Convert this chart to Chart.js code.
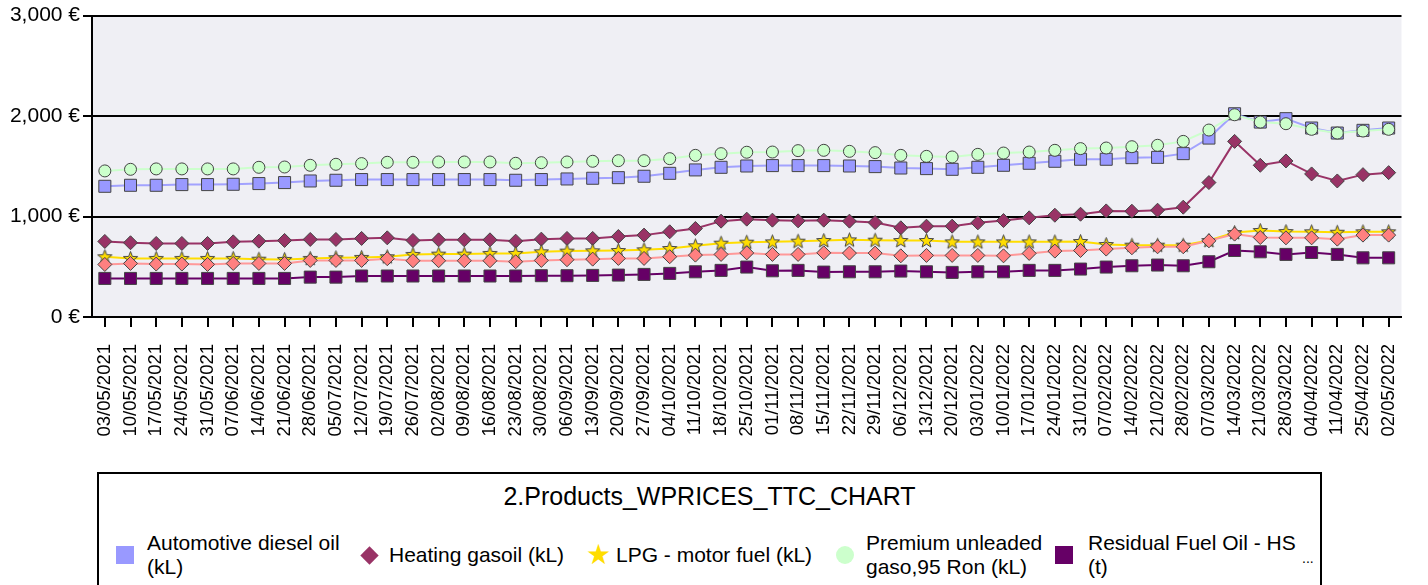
<!DOCTYPE html>
<html>
<head>
<meta charset="utf-8">
<script src="https://cdn.jsdelivr.net/npm/chart.js@4.4.1/dist/chart.umd.min.js"></script>
<style>
  body { margin: 0; background: #fff; font-family: "Liberation Sans", Arial, sans-serif; }
  #wrap { position: relative; width: 1428px; height: 585px; overflow: hidden; }
  #chart { position: absolute; left: 0; top: 0; }
  #legendBox { position: absolute; left: 97px; top: 472px; width: 1225px; height: 140px; border: 2px solid #000; box-sizing: border-box; }
  .lg { position: absolute; font-size: 21px; line-height: 24px; color: #000; white-space: nowrap; }
  .mk { position: absolute; }
</style>
</head>
<body>
<div id="wrap">
  <canvas id="chart" width="1428" height="470"></canvas>
  <div id="legendBox"></div>
  <div class="lg" id="legendTitle" style="left:97px;width:1225px;top:484px;text-align:center;font-size:25px;">2.Products_WPRICES_TTC_CHART</div>
  <div id="legendItems"></div>
  <div class="lg" style="left:1302px;top:546px;font-size:14px;">...</div>
</div>
<script>
// weekly dates
var dates = ["03/05/2021","10/05/2021","17/05/2021","24/05/2021","31/05/2021","07/06/2021","14/06/2021","21/06/2021","28/06/2021",
  "05/07/2021","12/07/2021","19/07/2021","26/07/2021","02/08/2021","09/08/2021","16/08/2021","23/08/2021","30/08/2021",
  "06/09/2021","13/09/2021","20/09/2021","27/09/2021","04/10/2021","11/10/2021","18/10/2021","25/10/2021",
  "01/11/2021","08/11/2021","15/11/2021","22/11/2021","29/11/2021","06/12/2021","13/12/2021","20/12/2021",
  "03/01/2022","10/01/2022","17/01/2022","24/01/2022","31/01/2022","07/02/2022","14/02/2022","21/02/2022","28/02/2022",
  "07/03/2022","14/03/2022","21/03/2022","28/03/2022","04/04/2022","11/04/2022","25/04/2022","02/05/2022"];

var dieselOil = [1301,1311,1311,1318,1318,1321,1328,1338,1354,1361,1368,1368,1368,
  1368,1368,1368,1361,1368,1374,1381,1387,1401,1430,1464,1490,1503,
  1507,1507,1507,1503,1497,1483,1477,1470,1490,1510,1530,1550,1570,
  1570,1586,1589,1626,1781,2023,1940,1974,1881,1831,1858,1881];

var heatingGasoil = [752,739,732,732,732,748,755,762,772,772,782,788,762,
  768,768,768,755,775,782,782,801,815,848,881,954,974,
  964,957,964,954,940,888,904,904,937,960,987,1013,1023,
  1056,1053,1063,1093,1338,1748,1510,1553,1424,1354,1417,1437];

var lpgFuel = [600,583,583,583,583,583,576,573,583,590,593,600,623,
  626,626,633,633,649,656,659,662,669,682,709,735,745,
  748,755,762,768,765,762,762,748,748,748,748,748,752,
  722,715,715,715,762,841,861,851,848,844,848,848];

var premiumUnleaded = [1454,1470,1474,1474,1474,1474,1490,1493,1510,1520,1527,1540,1540,
  1543,1543,1543,1530,1536,1543,1550,1556,1556,1576,1609,1626,1640,
  1642,1656,1659,1649,1636,1609,1599,1593,1619,1632,1642,1659,1676,
  1682,1695,1709,1748,1861,2013,1940,1924,1868,1831,1851,1868];

var residualHS = [384,384,384,384,384,384,384,384,397,397,408,408,408,
  408,408,408,408,411,411,414,417,424,434,450,464,497,
  460,464,447,450,450,457,450,444,450,450,464,464,477,
  497,510,517,510,550,662,649,623,642,623,589,589];

var residualLS = [523,533,527,527,523,533,533,533,563,563,563,580,560,
  560,560,560,550,563,570,576,583,583,600,616,623,638,
  623,623,639,636,636,609,613,613,613,609,633,656,662,
  676,689,699,699,758,825,791,788,788,775,815,815];

var yTicks = [0, 1000, 2000, 3000];

// filled star marker
function makeStar(size, fill) {
  var c = document.createElement('canvas');
  c.width = size; c.height = size;
  var g = c.getContext('2d');
  var cx = size / 2, cy = size / 2 + 0.5, R = size / 2 - 1, r = R * 0.42;
  g.beginPath();
  for (var i = 0; i < 10; i++) {
    var rad = (i % 2 === 0) ? R : r;
    var a = -Math.PI / 2 + i * Math.PI / 5;
    g.lineTo(cx + rad * Math.cos(a), cy + rad * Math.sin(a));
  }
  g.closePath();
  g.fillStyle = fill; g.fill();
  g.strokeStyle = '#444'; g.lineWidth = 1; g.stroke();
  return c;
}

var series = [
  {label: "Automotive diesel oil (kL)", text: ["Automotive diesel oil", "(kL)"], data: dieselOil, fill: '#9999ff', line: 'rgba(153,153,255,0.9)', style: 'rect', r: 8.5},
  {label: "Heating gasoil (kL)", text: ["Heating gasoil (kL)"], data: heatingGasoil, fill: '#993366', line: '#993366', style: 'rectRot', r: 7},
  {label: "LPG - motor fuel (kL)", text: ["LPG - motor fuel (kL)"], data: lpgFuel, fill: '#ffdd00', line: '#ffdd00', style: makeStar(17, '#ffdd00'), r: 8},
  {label: "Premium unleaded gaso,95 Ron (kL)", text: ["Premium unleaded", "gaso,95 Ron (kL)"], data: premiumUnleaded, fill: '#ccffcc', line: '#ccffcc', style: 'circle', r: 6},
  {label: "Residual Fuel Oil - HS (t)", text: ["Residual Fuel Oil - HS", "(t)"], data: residualHS, fill: '#660066', line: '#660066', style: 'rect', r: 8.5},
  {label: "Residual Fuel Oil - LS (t)", text: null, data: residualLS, fill: '#ff8080', line: '#ff9999', style: 'rectRot', r: 7}
];

var plotBg = {
  id: 'plotBg',
  beforeDraw: function(chart) {
    var a = chart.chartArea, ctx = chart.ctx;
    ctx.save();
    ctx.fillStyle = '#efeff4';
    ctx.fillRect(a.left, a.top, a.right - a.left, a.bottom - a.top);
    ctx.restore();
  }
};

var font = {family: '"Liberation Sans", Arial, sans-serif', size: 21};

var ctx = document.getElementById('chart');
var chart = new Chart(ctx, {
  type: 'line',
  plugins: [plotBg],
  data: {
    labels: dates,
    datasets: series.map(function(s, i) {
      return {
        label: s.label,
        data: s.data,
        borderColor: s.line,
        backgroundColor: s.fill,
        borderWidth: 2,
        tension: 0,
        pointStyle: s.style,
        pointRadius: s.r,
        pointHoverRadius: s.r,
        pointBackgroundColor: s.fill,
        pointBorderColor: '#444',
        pointBorderWidth: 1,
        order: 10 - i
      };
    })
  },
  options: {
    responsive: false,
    animation: false,
    layout: {padding: {top: 15, right: 15, left: 0, bottom: 0}},
    plugins: {legend: {display: false}, tooltip: {enabled: false}},
    scales: {
      x: {
        offset: true,
        grid: {drawOnChartArea: false, offset: false, color: '#000', lineWidth: 2, tickLength: 10},
        border: {color: '#000', width: 2},
        ticks: {autoSkip: false, minRotation: 90, maxRotation: 90, color: '#000',
          font: {family: font.family, size: 18.5}, padding: 17},
        afterFit: function(s) { s.height = 153; }
      },
      y: {
        min: 0, max: 3000,
        afterBuildTicks: function(s) { s.ticks = yTicks.map(function(v) { return {value: v}; }); },
        grid: {color: '#000', lineWidth: 2, tickLength: 9},
        border: {color: '#000', width: 2},
        ticks: {color: '#000', font: font, padding: 3,
          callback: function(v) { return v.toLocaleString('en-US') + ' €'; }},
        afterFit: function(s) { s.width = 92; }
      }
    }
  }
});

// html legend (first five series, the rest hidden behind "...")
var pos = [
  {mx: 116, tx: 147},
  {mx: 360, tx: 389},
  {mx: 588, tx: 616},
  {mx: 836, tx: 866},
  {mx: 1055, tx: 1088}
];
var box = document.getElementById('legendItems');
series.slice(0, 5).forEach(function(s, i) {
  var p = pos[i];
  var m = document.createElement('div');
  m.className = 'mk';
  if (s.style === 'rect') {
    m.style.cssText = 'left:' + p.mx + 'px;top:546px;width:18px;height:18px;background:' + s.fill;
  } else if (s.style === 'rectRot') {
    m.style.cssText = 'left:' + (p.mx + 3) + 'px;top:549px;width:13px;height:13px;background:' + s.fill + ';transform:rotate(45deg)';
  } else if (s.style === 'circle') {
    m.style.cssText = 'left:' + p.mx + 'px;top:546px;width:18px;height:18px;border-radius:50%;background:' + s.fill;
  } else {
    m.style.cssText = 'left:' + (p.mx - 2) + 'px;top:540px;font-size:28px;line-height:30px;color:' + s.fill;
    m.textContent = '\u2605';
  }
  box.appendChild(m);
  var t = document.createElement('div');
  t.className = 'lg';
  t.style.left = p.tx + 'px';
  t.style.top = (s.text.length > 1 ? 531 : 543) + 'px';
  t.innerHTML = s.text.join('<br>');
  box.appendChild(t);
});
</script>
</body>
</html>
